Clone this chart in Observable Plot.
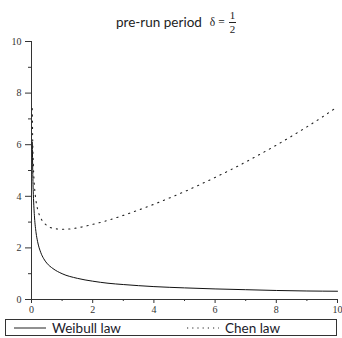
<!DOCTYPE html>
<html>
<head>
<meta charset="utf-8">
<script src="https://cdn.jsdelivr.net/npm/d3@7"></script>
<script src="https://cdn.jsdelivr.net/npm/@observablehq/plot@0.6"></script>
<style>
  html, body { margin: 0; padding: 0; background: #fff; }
  #wrap { position: relative; width: 342px; height: 338px; overflow: hidden; }
  #title { position: absolute; left: 116px; top: 8px; height: 28px; display: flex; align-items: center; color: #222; }
  #title .main { font-family: Lato, "Open Sans", sans-serif; font-size: 13.5px; }
  #title .delta { font-family: "Liberation Serif", serif; font-size: 11.5px; margin-left: 8px; }
  #title .frac { display: inline-flex; flex-direction: column; align-items: center; font-family: "Liberation Serif", serif; font-size: 11px; line-height: 11px; margin-left: 4px; }
  #title .frac .num { border-bottom: 1px solid #222; padding: 0 1px 1px 1px; }
  #title .frac .den { padding-top: 1px; }
  #chart { position: absolute; left: 0; top: 0; }
  #legend { position: absolute; left: 5px; top: 319px; width: 332px; height: 17px; border: 1px solid #333; box-sizing: border-box; font-family: Lato, "Open Sans", sans-serif; font-size: 13.5px; color: #1a1a2a; }
  #legend .item { position: absolute; top: 0; height: 15px; display: flex; align-items: center; }
  #legend svg { margin-right: 6px; }
</style>
</head>
<body>
<div id="wrap">
  <div id="chart"></div>
  <div id="title"><span class="main">pre-run period</span><span class="delta">δ =</span><span class="frac"><span class="num">1</span><span class="den">2</span></span></div>
  <div id="legend"></div>
</div>
<script>
// Data
const seriesNames = ["Weibull law", "Chen law"];
const weibullX = [0.027, 0.04, 0.06, 0.08, 0.1, 0.15, 0.2, 0.3, 0.4, 0.5, 0.7, 1, 1.5, 2, 2.5, 3, 4, 5, 6, 7, 8, 9, 10];
const weibullY = [6.1, 5.0, 4.08, 3.54, 3.16, 2.58, 2.24, 1.83, 1.58, 1.41, 1.2, 1.0, 0.82, 0.71, 0.63, 0.58, 0.5, 0.45, 0.41, 0.38, 0.35, 0.33, 0.32];
const chenX = [0.025, 0.04, 0.06, 0.08, 0.1, 0.15, 0.2, 0.3, 0.4, 0.5, 0.7, 1, 1.3, 1.6, 2, 2.5, 3, 3.5, 4, 4.5, 5, 5.5, 6, 6.5, 7, 7.5, 8, 8.5, 9, 9.5, 10];
const chenY = [7.4, 6.11, 5.22, 4.69, 4.34, 3.8, 3.5, 3.16, 2.98, 2.87, 2.76, 2.72, 2.74, 2.8, 2.91, 3.07, 3.26, 3.47, 3.69, 3.93, 4.18, 4.45, 4.73, 5.02, 5.33, 5.65, 5.98, 6.33, 6.69, 7.07, 7.47];
const yTicks = [0, 2, 4, 6, 8, 10];
const yMinor = [1, 3, 5, 7, 9];
const xTicks = [0, 2, 4, 6, 8, 10];
const xMinor = [1, 3, 5, 7, 9];

const weibull = weibullX.map((x, i) => ({x, y: weibullY[i]}));
const chen = chenX.map((x, i) => ({x, y: chenY[i]}));

const axisColor = "#333";
const noLabel = () => "";
const chart = Plot.plot({
  width: 342,
  height: 316,
  marginLeft: 31,
  marginRight: 5,
  marginTop: 41,
  marginBottom: 17,
  x: {domain: [0, 10], label: null},
  y: {domain: [0, 10], label: null},
  style: {fontFamily: "'Liberation Serif', serif", fontSize: "10px", color: axisColor, background: "transparent", overflow: "visible"},
  marks: [
    Plot.axisY({ticks: yTicks, tickSize: 6, tickPadding: 4, label: null}),
    Plot.axisY({ticks: yMinor, tickSize: 3, tickFormat: noLabel, label: null}),
    Plot.axisX({ticks: xTicks, tickSize: 4, tickPadding: 2, label: null}),
    Plot.axisX({ticks: xMinor, tickSize: 2, tickFormat: noLabel, label: null}),
    Plot.ruleX([0], {stroke: axisColor}),
    Plot.ruleY([0], {stroke: axisColor}),
    Plot.line(weibull, {x: "x", y: "y", stroke: "#111", strokeWidth: 1, curve: "monotone-x"}),
    Plot.line(chen, {x: "x", y: "y", stroke: "#222", strokeWidth: 1.1, strokeDasharray: "1.2,5", curve: "monotone-x"})
  ]
});
document.getElementById("chart").appendChild(chart);

// Legend
const legend = document.getElementById("legend");
const styles = [{dash: null, left: 8}, {dash: "1.2,4", left: 181}];
seriesNames.forEach((name, i) => {
  const item = document.createElement("div");
  item.className = "item";
  item.style.left = styles[i].left + "px";
  const ns = "http://www.w3.org/2000/svg";
  const svg = document.createElementNS(ns, "svg");
  svg.setAttribute("width", 32);
  svg.setAttribute("height", 6);
  const ln = document.createElementNS(ns, "line");
  ln.setAttribute("x1", 0); ln.setAttribute("x2", 32);
  ln.setAttribute("y1", 3); ln.setAttribute("y2", 3);
  ln.setAttribute("stroke", "#222");
  ln.setAttribute("stroke-width", 1);
  if (styles[i].dash) ln.setAttribute("stroke-dasharray", styles[i].dash);
  svg.appendChild(ln);
  item.appendChild(svg);
  const t = document.createElement("span");
  t.textContent = name;
  item.appendChild(t);
  legend.appendChild(item);
});
</script>
</body>
</html>
